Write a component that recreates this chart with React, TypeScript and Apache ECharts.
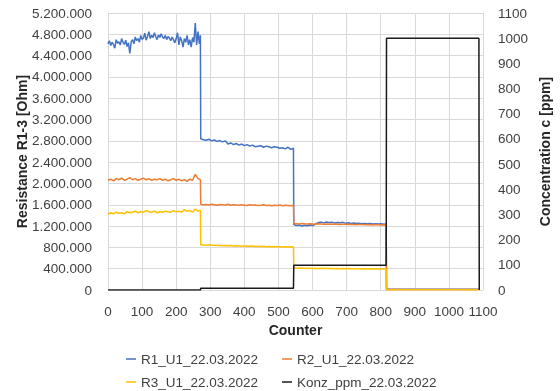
import React, { useEffect, useRef } from "react";
import * as echarts from "echarts";

// Segment boundaries (counter)
const SEG_START = [0, 272, 545, 817];
const SEG_END = [271, 544, 816, 1088];

// Values in thousands of Ohm. Last entry of each array sits at the segment end.
const R1_SEG1 = [
  4620, 4680, 4590, 4650, 4610, 4540, 4700, 4630, 4660, 4600, 4720, 4650, 4610, 4690, 4570, 4640,
  4440, 4660, 4700, 4620, 4750, 4680, 4720, 4650, 4780, 4700, 4730, 4820, 4690, 4760, 4850, 4720,
  4780, 4740, 4830, 4760, 4700, 4790, 4740, 4810, 4750, 4720, 4780, 4700, 4760, 4730, 4680, 4750,
  4700, 4640, 4720, 4830, 4600, 4750, 4680, 4560, 4720, 4650, 4780, 4600, 4700, 4560, 4740, 4650,
  5010, 4600, 4850, 4620, 4780,
];
const R1_SEG2 = [
  2840, 2820, 2810, 2830, 2800, 2815, 2790, 2805, 2780, 2800, 2740, 2760, 2730, 2750, 2720, 2740,
  2710, 2730, 2700, 2720, 2690, 2700, 2710, 2680, 2700, 2690, 2670, 2690, 2680, 2660, 2670, 2650,
  2680, 2640, 2660,
];
const R1_SEG3 = [
  1230, 1210, 1220, 1200, 1215, 1205, 1220, 1210, 1240, 1265, 1270, 1260, 1275, 1265, 1270, 1260,
  1268, 1262, 1270, 1255, 1262, 1250, 1258, 1248, 1255, 1245, 1250, 1242, 1248, 1240, 1245, 1238,
  1242, 1236, 1240,
];
const R1_SEG4 = [12, 14];

const R2_SEG1 = [
  2060, 2080, 2050, 2090, 2070, 2100, 2060, 2080, 2110, 2070, 2090, 2060, 2080, 2100, 2070, 2090,
  2060, 2080, 2070, 2090, 2060, 2080, 2050, 2070, 2090, 2060, 2080, 2050, 2070, 2040, 2080, 2060,
  2170, 2090, 2070,
];
const R2_SEG2 = [
  1610, 1600, 1605, 1595, 1610, 1600, 1590, 1605, 1600, 1595, 1610, 1590, 1600, 1595, 1590, 1600,
  1590, 1585, 1600, 1590, 1595, 1585, 1590, 1600, 1585, 1590, 1580, 1590, 1585, 1595, 1580, 1590,
  1585, 1580, 1590,
];
const R2_SEG3 = [
  1250, 1245, 1240, 1248, 1242, 1238, 1245, 1240, 1236, 1242, 1238, 1235, 1240, 1236, 1232, 1238,
  1234, 1230, 1236, 1232, 1228, 1234, 1230, 1226, 1232, 1228, 1225, 1230, 1226, 1222, 1228, 1224,
  1220, 1226, 1222,
];
const R2_SEG4 = [8, 8];

const R3_SEG1 = [
  1420, 1450, 1430, 1460, 1440, 1450, 1430, 1470, 1450, 1460, 1480, 1450, 1470, 1460, 1490, 1470,
  1460, 1480, 1450, 1470, 1460, 1480, 1470, 1460, 1490, 1470, 1480, 1460, 1510, 1480, 1490, 1460,
  1520, 1480, 1500,
];
const R3_SEG2 = [
  850, 845, 840, 848, 838, 842, 835, 840, 832, 836, 830, 834, 828, 830, 825, 828, 822, 826, 820,
  824, 818, 822, 816, 820, 814, 818, 812, 815, 810, 814, 808, 812, 806, 810, 805,
];
const R3_SEG3 = [
  410, 408, 412, 407, 410, 406, 409, 405, 408, 404, 407, 403, 406, 402, 405, 401, 404, 400, 403,
  399, 402, 398, 401, 397, 400, 396, 399, 395, 398, 395, 397, 394, 396, 393, 395,
];
const R3_SEG4 = [5, 5];

const KONZ_COUNTER = [0, 271, 272, 544, 545, 816, 817, 1088, 1089];
const KONZ_PPM = [0, 0, 7, 7, 98, 98, 1000, 1000, 0];

const NAMES = ["R1_U1_22.03.2022", "R2_U1_22.03.2022", "R3_U1_22.03.2022", "Konz_ppm_22.03.2022"];
const COLORS = ["#4472C4", "#ED7D31", "#FFC000", "#1a1a1a"];

function buildSeg(values: number[], segIdx: number, step: number): number[][] {
  const out: number[][] = [];
  const start = SEG_START[segIdx];
  const end = SEG_END[segIdx];
  values.forEach((v, i) => {
    const c = i === values.length - 1 ? end : start + i * step;
    out.push([c, v * 1000]);
  });
  return out;
}

function buildSeries(segs: number[][], steps: number[]): number[][] {
  let out: number[][] = [];
  segs.forEach((vals, i) => {
    out = out.concat(buildSeg(vals, i, steps[i]));
  });
  return out;
}

const fmtDots = (v: number) => String(Math.round(v)).replace(/\B(?=(\d{3})+(?!\d))/g, ".");
const fmtPlain = (v: number) => String(Math.round(v));

const FONT = "'Liberation Sans', Arial, sans-serif";
const LABEL_COLOR = "#404040";

export default function App() {
  const ref = useRef<HTMLDivElement>(null);
  useEffect(() => {
    if (!ref.current) return;
    const chart = echarts.init(ref.current, undefined, { renderer: "svg" });
    const r1 = buildSeries([R1_SEG1, R1_SEG2, R1_SEG3, R1_SEG4], [4, 8, 8, 8]);
    const r2 = buildSeries([R2_SEG1, R2_SEG2, R2_SEG3, R2_SEG4], [8, 8, 8, 8]);
    const r3 = buildSeries([R3_SEG1, R3_SEG2, R3_SEG3, R3_SEG4], [8, 8, 8, 8]);
    const konz = KONZ_COUNTER.map((c, i) => [c, KONZ_PPM[i]]);

    const legendPos = [
      { left: 126, top: 352 },
      { left: 282, top: 352 },
      { left: 126, top: 375 },
      { left: 282, top: 375 },
    ];

    chart.setOption({
      animation: false,
      textStyle: { fontFamily: FONT },
      grid: { left: 108, right: 72, top: 13, bottom: 101, containLabel: false },
      legend: NAMES.map((n, i) => ({
        data: [n],
        left: legendPos[i].left,
        top: legendPos[i].top,
        icon: "rect",
        itemWidth: 10,
        itemHeight: 1.5,
        itemGap: 0,
        padding: 0,
        textStyle: { fontSize: 13.5, color: LABEL_COLOR, fontFamily: FONT },
      })),
      xAxis: {
        type: "value",
        min: 0,
        max: 1100,
        interval: 100,
        name: "Counter",
        nameLocation: "middle",
        nameGap: 33,
        nameMoveOverlap: false,
        nameTextStyle: { fontSize: 14, fontWeight: "bold", color: "#262626", fontFamily: FONT },
        axisLine: { show: false },
        axisTick: { show: false },
        axisLabel: { fontSize: 13.5, color: LABEL_COLOR, margin: 14, formatter: fmtPlain, fontFamily: FONT },
        splitLine: { show: true, lineStyle: { color: "#D9D9D9", width: 1 } },
      },
      yAxis: [
        {
          type: "value",
          min: 0,
          max: 5200000,
          interval: 400000,
          name: "Resistance R1-3 [Ohm]",
          nameLocation: "middle",
          nameGap: 79,
          nameMoveOverlap: false,
          nameTextStyle: { fontSize: 14, fontWeight: "bold", color: "#262626", fontFamily: FONT },
          axisLine: { show: false },
          axisTick: { show: false },
          axisLabel: { fontSize: 13.5, color: LABEL_COLOR, margin: 16, formatter: fmtDots, fontFamily: FONT },
          splitLine: { show: true, lineStyle: { color: "#D9D9D9", width: 1 } },
        },
        {
          type: "value",
          min: 0,
          max: 1100,
          interval: 100,
          position: "right",
          name: "Concentration c [ppm]",
          nameLocation: "middle",
          nameGap: 55,
          nameMoveOverlap: false,
          nameRotate: 90,
          nameTextStyle: { fontSize: 14, fontWeight: "bold", color: "#262626", fontFamily: FONT },
          axisLine: { show: false },
          axisTick: { show: false },
          axisLabel: { fontSize: 13.5, color: LABEL_COLOR, margin: 15, formatter: fmtPlain, fontFamily: FONT },
          splitLine: { show: false },
        },
      ],
      series: [
        { name: NAMES[0], type: "line", data: r1, yAxisIndex: 0, showSymbol: false, color: COLORS[0], lineStyle: { width: 1.5 } },
        { name: NAMES[1], type: "line", data: r2, yAxisIndex: 0, showSymbol: false, color: COLORS[1], lineStyle: { width: 1.5 } },
        { name: NAMES[2], type: "line", data: r3, yAxisIndex: 0, showSymbol: false, color: COLORS[2], lineStyle: { width: 1.5 } },
        { name: NAMES[3], type: "line", data: konz, yAxisIndex: 1, showSymbol: false, color: COLORS[3], lineStyle: { width: 1.5 } },
      ],
    });
    return () => chart.dispose();
  }, []);
  return <div ref={ref} style={{ position: "fixed", left: 0, top: 0, width: 560, height: 391 }} />;
}
